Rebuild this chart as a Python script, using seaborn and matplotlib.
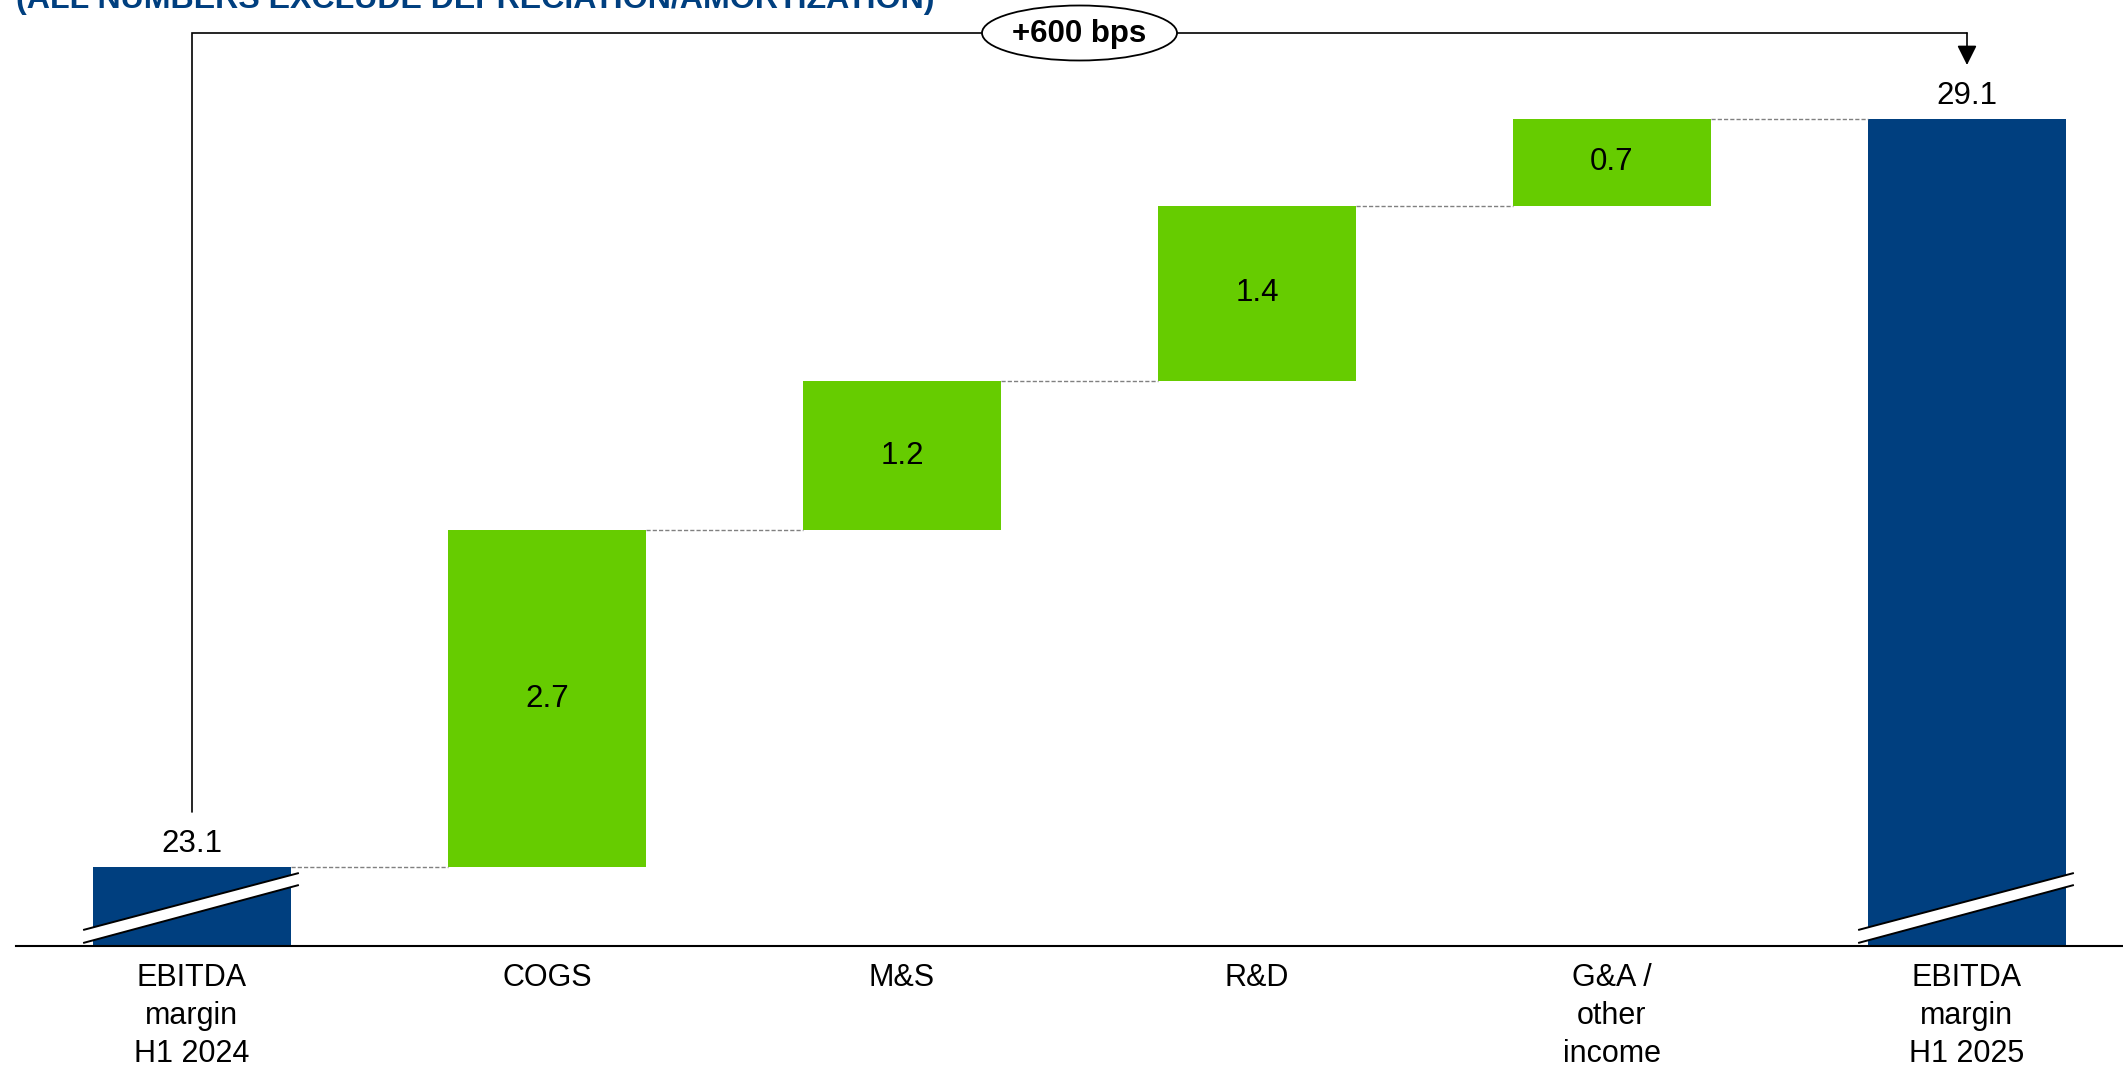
import numpy as np
import pandas as pd
import matplotlib
matplotlib.use("Agg")
import matplotlib.pyplot as plt
import seaborn as sns
from matplotlib.patches import Ellipse, Polygon

# ---- data -------------------------------------------------------------
categories = [
    "EBITDA\nmargin\nH1 2024",
    "COGS",
    "M&S",
    "R&D",
    "G&A /\nother\nincome",
    "EBITDA\nmargin\nH1 2025",
]
start_margin = 23.1
steps = [2.7, 1.2, 1.4, 0.7]
end_margin = 29.1
title = "(ALL NUMBERS EXCLUDE DEPRECIATION/AMORTIZATION)"

NAVY = "#003F7F"
GREEN = "#66CC00"

# ---- figure setup -----------------------------------------------------
sns.set_theme(style="white")
plt.rcParams["font.family"] = ["Liberation Sans", "DejaVu Sans"]

W, H, DPI = 2123, 1073, 100
fig = plt.figure(figsize=(W / DPI, H / DPI), dpi=DPI)
AX_L, AX_B = 16, 946  # axes left edge / baseline in pixels
ax = fig.add_axes([AX_L / W, 1 - AX_B / H, 1 - AX_L / W, AX_B / H])

px_per_unit = 124.8          # vertical scale of the broken axis
y_lo = 22.47                 # value sitting on the baseline
y_hi = y_lo + AX_B / px_per_unit


def at_row(p):
    """Data value for a pixel row measured from the top of the figure."""
    return y_lo + (AX_B - p) / px_per_unit


# ---- waterfall geometry ----------------------------------------------
levels = start_margin + np.concatenate([[0.0], np.cumsum(steps)])
bottoms = [y_lo] + list(levels[:-1]) + [y_lo]
tops = [start_margin] + list(levels[1:]) + [end_margin]
heights = np.array(tops) - np.array(bottoms)
kinds = ["total"] + ["step"] * len(steps) + ["total"]
df = pd.DataFrame({"category": categories, "height": heights,
                   "bottom": bottoms, "top": tops, "kind": kinds})

bar_w = 0.557
sns.barplot(data=df, x="category", y="height", bottom=df["bottom"].to_numpy(),
            width=bar_w, color=NAVY, saturation=1, errorbar=None,
            linewidth=0, ax=ax)
for patch, kind in zip(ax.patches, df["kind"]):
    patch.set_facecolor(NAVY if kind == "total" else GREEN)
    patch.set_edgecolor("none")

ax.set_xlim(-(192 - AX_L) / 355, 5 + (W - 1967) / 355)
ax.set_ylim(y_lo, y_hi)
ax.set_xlabel("")
ax.set_ylabel("")
ax.set_yticks([])
for side in ("left", "top", "right"):
    ax.spines[side].set_visible(False)
ax.spines["bottom"].set_color("black")
ax.spines["bottom"].set_linewidth(1.5)
ax.tick_params(axis="x", length=0, pad=12, labelsize=22, colors="black")
for lbl in ax.get_xticklabels():
    lbl.set_linespacing(1.35)

# connectors between consecutive bars
for i in range(len(categories) - 1):
    lvl = tops[i]
    ax.plot([i + bar_w / 2, i + 1 - bar_w / 2], [lvl, lvl],
            color="#808080", lw=1.0, ls=(0, (3, 1.5)), zorder=1)

# value labels
VAL_FS = 22.5
for i, row in df.iterrows():
    if row["kind"] == "total":
        ax.annotate(f"{row['top']:.1f}", (i, row["top"]), xytext=(0, 16.5),
                    textcoords="offset points", ha="center", va="center",
                    fontsize=VAL_FS, color="black")
    else:
        ax.text(i, (row["bottom"] + row["top"]) / 2, f"{row['height']:.1f}",
                ha="center", va="center", fontsize=VAL_FS, color="black")

# axis-break marks on the two total bars
for i in (0, len(categories) - 1):
    xl = i - bar_w / 2 - 10 / 355
    xr = i + bar_w / 2 + 8 / 355
    ul, ur = at_row(930), at_row(873)
    ll, lr = at_row(943), at_row(885)
    ax.add_patch(Polygon([(xl, ul), (xr, ur), (xr, lr), (xl, ll)],
                         closed=True, facecolor="white", edgecolor="none",
                         zorder=3))
    ax.plot([xl, xr], [ul, ur], color="black", lw=1.4, zorder=4,
            solid_capstyle="butt")
    ax.plot([xl, xr], [ll, lr], color="black", lw=1.4, zorder=4,
            solid_capstyle="butt")

# bracket showing the overall margin change
x0, x1 = 0, len(categories) - 1
yb = at_row(33)
ax.plot([x0, x0, x1], [at_row(812), yb, yb], color="black", lw=1.2,
        zorder=2, solid_joinstyle="miter")
ax.annotate("", xy=(x1, at_row(65)), xytext=(x1, yb),
            arrowprops=dict(arrowstyle="-|>", color="black", lw=1.2,
                            mutation_scale=30, shrinkA=0, shrinkB=0),
            zorder=2)
xm = (x0 + x1) / 2
ax.add_patch(Ellipse((xm, yb), width=195 / 355, height=55 / px_per_unit,
                     facecolor="white", edgecolor="black", lw=1.3, zorder=5))
bps = round((end_margin - start_margin) * 100)
ax.text(xm, yb - 0.01, f"+{bps:.0f} bps", ha="center", va="center",
        fontsize=22.5, fontweight="bold", color="black", zorder=6)

# title strip at the top edge
t = fig.text(AX_L / W, 1 - 8 / H, title, ha="left", va="baseline",
             fontsize=22, fontweight="bold", color=NAVY,
             family=["Liberation Sans Narrow", "Liberation Sans", "DejaVu Sans"])
fig.canvas.draw()
w_px = t.get_window_extent().width
t.set_fontsize(22 * 916 / w_px)

fig.savefig("out.png", dpi=DPI, facecolor="white")
